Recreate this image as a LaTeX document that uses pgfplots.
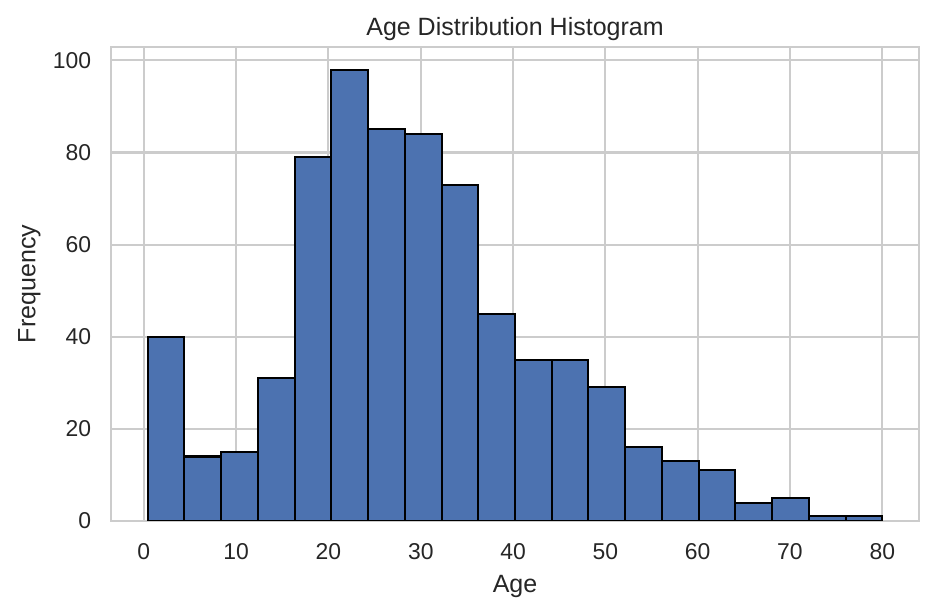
\documentclass[border=0pt]{standalone}
\usepackage{fontspec}
\setmainfont{Liberation Sans}
\usepackage{pgfplots}
\pgfplotsset{compat=1.18}
\definecolor{sbblue}{HTML}{4C72B0}
\definecolor{gridgray}{HTML}{CCCCCC}
\definecolor{txt}{HTML}{262626}
\begin{document}
\begin{tikzpicture}
% page = 934x614 px at 0.48pt/px
\useasboundingbox (-53.28pt,-44.64pt) rectangle (395.04pt,250.08pt);
\begin{axis}[
  at={(0,0)}, anchor=south west,
  scale only axis,
  width=387.84pt, height=227.52pt,
  xmin=-3.559, xmax=83.979,
  ymin=0, ymax=102.9,
  xtick={0,10,...,80},
  ytick={0,20,...,100},
  major tick length=0pt,
  xticklabel shift=7.5pt,
  yticklabel shift=6pt,
  grid=major,
  major grid style={draw=gridgray, line width=1pt},
  axis line style={draw=gridgray, line width=1.25pt},
  axis on top=false,
  tick label style={font=\fontsize{11}{13}\selectfont, text=txt},
  /pgf/number format/assume math mode=true,
  label style={font=\fontsize{12}{14}\selectfont, text=txt},
  title style={font=\fontsize{12}{14}\selectfont, text=txt, yshift=-6.3pt},
  title={Age Distribution Histogram},
  xlabel={Age},
  ylabel={Frequency},
  xlabel style={yshift=-0.5pt},
  ylabel style={yshift=-1pt},
]
\addplot[ybar interval, fill=sbblue, draw=black, line width=1pt] coordinates {
(0.42,40) (4.399,14) (8.378,15) (12.357,31) (16.336,79)
(20.315,98) (24.294,85) (28.273,84) (32.252,73) (36.231,45)
(40.21,35) (44.189,35) (48.168,29) (52.147,16) (56.126,13)
(60.105,11) (64.084,4) (68.063,5) (72.042,1) (76.021,1)
(80.0,1)
};
\end{axis}
\end{tikzpicture}
\end{document}
